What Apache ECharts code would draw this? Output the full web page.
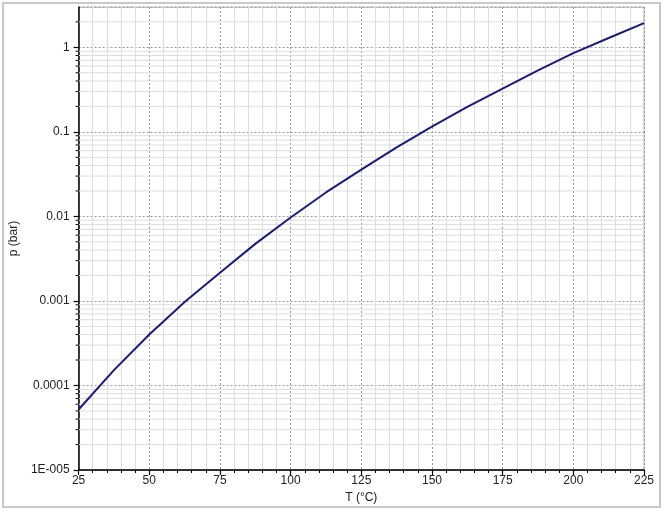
<!DOCTYPE html>
<html>
<head>
<meta charset="utf-8">
<script src="https://cdn.jsdelivr.net/npm/echarts@6/dist/echarts.min.js"></script>
<style>html,body{margin:0;padding:0;background:#fff}#c{width:665px;height:512px}</style>
</head>
<body>
<div id="c"></div>
<script>
// Temperature (°C)
var temps = [25, 37.5, 50, 62.5, 75, 87.5, 100, 112.5, 125, 137.5, 150, 162.5, 175, 187.5, 200, 212.5, 225];
// Vapour pressure (bar)
var pressures = [5.2e-5, 1.52e-4, 4.0e-4, 9.7e-4, 2.16e-3, 4.73e-3, 9.7e-3, 1.92e-2, 3.58e-2, 6.56e-2, 0.1156, 0.198, 0.325, 0.535, 0.853, 1.29, 1.93];
// y tick labels for decades 1e-5 .. 1
var yTickLabels = ['1E-005', '0.0001', '0.001', '0.01', '0.1', '1'];
var yMin = 1e-5, yMax = 3;
var xMin = 25, xMax = 225;
// minor log positions (2..9 per decade)
var minorMultipliers = [2, 3, 4, 5, 6, 7, 8, 9];

var minorVals = [];
for (var e = -5; e <= 0; e++) {
  for (var i = 0; i < minorMultipliers.length; i++) {
    var v = minorMultipliers[i] * Math.pow(10, e);
    if (v < yMax) minorVals.push([xMin, v]);
  }
}
var curve = temps.map(function (t, i) { return [t, pressures[i]]; });

var chart = echarts.init(document.getElementById('c'));
chart.setOption({
  animation: false,
  backgroundColor: '#fff',
  textStyle: { fontFamily: 'Liberation Sans, Arial, sans-serif' },
  graphic: [{
    type: 'rect', shape: { x: 3, y: 3, width: 657, height: 504 },
    style: { fill: 'none', stroke: '#c8c8c8', lineWidth: 2 }, z: -1
  }],
  grid: { left: 76, right: 21, top: 7, bottom: 42, show: true, borderColor: '#b4b4b4', borderWidth: 1 },
  xAxis: {
    type: 'value', min: xMin, max: xMax, interval: 25,
    name: 'T (°C)', nameLocation: 'middle', nameGap: 19,
    nameTextStyle: { fontSize: 12, color: '#222' },
    axisLine: { show: true, onZero: false, lineStyle: { color: '#000', width: 1.5 } },
    axisTick: { show: true, length: 5, lineStyle: { color: '#000', width: 1.2 } },
    minorTick: { show: true, splitNumber: 5, length: 3, lineStyle: { color: '#000', width: 1 } },
    axisLabel: { fontSize: 12, color: '#222', margin: 5 },
    splitLine: { show: true, lineStyle: { color: '#9a9a9a', type: [2, 2], width: 1 } },
    minorSplitLine: { show: true, lineStyle: { color: '#dedede', width: 1 } }
  },
  yAxis: {
    type: 'log', logBase: 10, min: yMin, max: yMax,
    name: 'p (bar)', nameLocation: 'middle', nameGap: 57, nameRotate: 90,
    nameTextStyle: { fontSize: 12, color: '#222' },
    axisLine: { show: true, onZero: false, lineStyle: { color: '#000', width: 1.5 } },
    axisTick: { show: true, length: 5, lineStyle: { color: '#000', width: 1.2 } },
    axisLabel: {
      fontSize: 12, color: '#222', margin: 9, showMaxLabel: false,
      formatter: function (v) {
        var l = Math.log10(v), r = Math.round(l);
        if (Math.abs(l - r) > 1e-6) return '';
        return yTickLabels[r + 5] || '';
      }
    },
    splitLine: { show: true, lineStyle: { color: '#9a9a9a', type: [2, 2], width: 1 } }
  },
  series: [{
    type: 'custom',
    clip: false,
    silent: true,
    z: 1,
    data: minorVals,
    renderItem: function (params, api) {
      var a = api.coord([xMin, api.value(1)]);
      var b = api.coord([xMax, api.value(1)]);
      return {
        type: 'group',
        children: [{
          type: 'line',
          shape: { x1: a[0], y1: a[1], x2: b[0], y2: b[1] },
          style: { stroke: '#dedede', lineWidth: 1 }
        }, {
          type: 'line',
          shape: { x1: a[0] - 3, y1: a[1], x2: a[0], y2: a[1] },
          style: { stroke: '#000', lineWidth: 1 }
        }]
      };
    }
  }, {
    type: 'line',
    data: curve,
    smooth: false,
    showSymbol: false,
    z: 5,
    lineStyle: { color: '#1b1b7a', width: 2, join: 'round' }
  }]
});
</script>
</body>
</html>
